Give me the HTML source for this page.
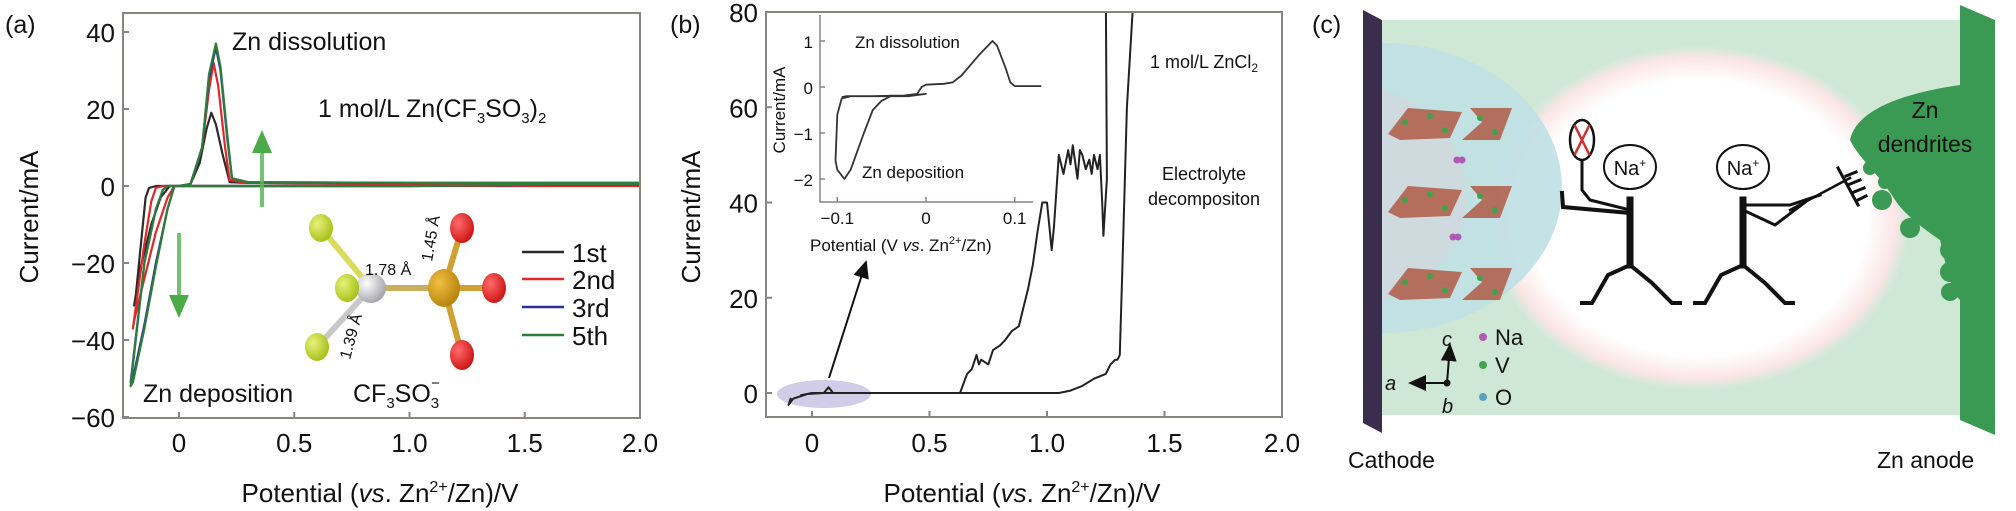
<!DOCTYPE html>
<html><head><meta charset="utf-8">
<style>
html,body{margin:0;padding:0;background:#fff;}
svg{display:block;font-family:"Liberation Sans",sans-serif;}
</style></head>
<body>
<svg id="fig" width="2016" height="511" viewBox="0 0 2016 511" xmlns="http://www.w3.org/2000/svg">
<defs>
  <radialGradient id="gf" cx="35%" cy="35%" r="65%"><stop offset="0" stop-color="#e8f27a"/><stop offset="1" stop-color="#a9c21d"/></radialGradient>
  <radialGradient id="go" cx="35%" cy="35%" r="65%"><stop offset="0" stop-color="#ff6b6b"/><stop offset="1" stop-color="#d01818"/></radialGradient>
  <radialGradient id="gs" cx="35%" cy="35%" r="65%"><stop offset="0" stop-color="#f0c040"/><stop offset="1" stop-color="#b9860f"/></radialGradient>
  <radialGradient id="gc" cx="35%" cy="35%" r="65%"><stop offset="0" stop-color="#ffffff"/><stop offset="1" stop-color="#a8a8b0"/></radialGradient>
  <radialGradient id="glow" cx="50%" cy="50%" r="50%"><stop offset="0.8" stop-color="#ffffff"/><stop offset="0.93" stop-color="#fbe6e6"/><stop offset="1" stop-color="#cfe8d6"/></radialGradient>
  <radialGradient id="blue" cx="0%" cy="50%" r="100%"><stop offset="0" stop-color="#c9e7e6"/><stop offset="0.5" stop-color="#e6d9dc"/><stop offset="1" stop-color="#a9d7e0"/></radialGradient>
  <marker id="ah" markerWidth="10" markerHeight="10" refX="8" refY="5" orient="auto"><path d="M0,1 L9,5 L0,9 z" fill="#111"/></marker>
</defs>
<g id="pa"></g>
<g id="pb"></g>
<g id="pc"></g>
</svg>
<script>
// ---------- Panel (a) data ----------
const aXTicks = [0, 0.5, 1.0, 1.5, 2.0];
const aXTickLabels = ["0", "0.5", "1.0", "1.5", "2.0"];
const aYTicks = [40, 20, 0, -20, -40, -60];
const aYTickLabels = ["40", "20", "0", "\u221220", "\u221240", "\u221260"];
const aSeriesNames = ["1st", "2nd", "3rd", "5th"];
const aSeriesColors = ["#2b2b2b", "#e02828", "#2b2f9a", "#2e7d3a"];
const aV1 = [2.0, 1.0, 0.3, 0.22, 0.19, 0.16, 0.14, 0.12, 0.09, 0.05, 0.0, -0.1, -0.13, -0.145, -0.16, -0.19, -0.195, -0.17, -0.12, -0.08, -0.04, 0.0, 0.5, 1.0, 2.0];
const aI1 = [0.5, 0.5, 0.8, 1.0, 8, 16, 19, 15, 6, 0.5, 0, 0, -0.5, -3, -12, -30, -31, -22, -10, -3, 0, 0, 0, 0, 0.3];
const aV2 = [2.0, 1.0, 0.3, 0.22, 0.2, 0.17, 0.15, 0.13, 0.1, 0.05, 0.0, -0.07, -0.1, -0.12, -0.15, -0.2, -0.195, -0.15, -0.1, -0.05, -0.02, 0.0, 0.5, 1.0, 2.0];
const aI2 = [0.2, 0.5, 0.8, 1.5, 10, 26, 32, 25, 10, 0.5, 0, 0, -0.5, -4, -15, -37, -35, -24, -12, -3, 0, 0, 0, 0, 0];
const aV3 = [2.0, 1.0, 0.3, 0.23, 0.21, 0.18, 0.16, 0.13, 0.1, 0.05, 0.0, -0.05, -0.07, -0.1, -0.15, -0.21, -0.2, -0.15, -0.1, -0.05, -0.02, 0.0, 0.5, 1.0, 2.0];
const aI3 = [0.8, 0.8, 1.0, 2, 12, 30, 36, 28, 10, 0.5, 0, 0, -1, -6, -20, -51, -50, -36, -20, -6, 0, 0, 0, 0, 0.5];
const aV5 = [2.0, 1.0, 0.3, 0.23, 0.21, 0.18, 0.16, 0.13, 0.1, 0.05, 0.0, -0.05, -0.07, -0.1, -0.15, -0.21, -0.2, -0.15, -0.1, -0.05, -0.02, 0.0, 0.5, 1.0, 2.0];
const aI5 = [0.8, 0.8, 1.0, 2, 13, 31, 37, 29, 10, 0.5, 0, 0, -1, -6, -20, -52, -51, -37, -21, -6, 0, 0, 0, 0, 0.6];

// ---------- Panel (b) data ----------
const bXTicks = [0, 0.5, 1.0, 1.5, 2.0];
const bXTickLabels = ["0", "0.5", "1.0", "1.5", "2.0"];
const bYTicks = [80, 60, 40, 20, 0];
const bYTickLabels = ["80", "60", "40", "20", "0"];
const bV = [-0.09, -0.1, -0.08, -0.02, 0.05, 0.07, 0.09, 0.2, 0.6, 1.05, 1.1, 1.15, 1.2, 1.25, 1.27, 1.29, 1.3, 1.31, 1.32, 1.34, 1.37, 1.25, 1.255, 1.24, 1.235, 1.225, 1.215, 1.2, 1.19, 1.18, 1.165, 1.15, 1.14, 1.13, 1.11, 1.1, 1.09, 1.07, 1.05, 1.03, 1.02, 1.0, 0.98, 0.96, 0.94, 0.92, 0.9, 0.88, 0.85, 0.82, 0.8, 0.77, 0.75, 0.72, 0.71, 0.7, 0.68, 0.66, 0.63, 0.5, 0.2, 0.0, -0.05];
const bI = [-1, -2.5, -1.2, -0.2, 0, 1.2, 0, 0, 0, 0, 0.5, 1.5, 3, 4, 6, 7, 7, 8, 25, 60, 85, 85, 45, 33, 40, 50, 47, 50, 46, 49, 47, 50, 51, 45, 52, 48, 51, 46, 50, 35, 30, 40, 40, 34, 27, 22, 18, 14, 13, 11, 10, 9, 6, 7, 6, 8, 5, 4, 0, 0, 0, 0, -0.5];
const insXTicks = [-0.1, 0, 0.1];
const insXTickLabels = ["\u22120.1", "0", "0.1"];
const insYTicks = [1, 0, -1, -2];
const insYTickLabels = ["1", "0", "\u22121", "\u22122"];
const insV = [0.13, 0.1, 0.095, 0.09, 0.08, 0.075, 0.06, 0.04, 0.03, 0.02, 0.0, -0.005, -0.01, -0.03, -0.06, -0.085, -0.095, -0.1, -0.102, -0.1, -0.092, -0.085, -0.07, -0.06, -0.05, -0.04, -0.02, 0.0, -0.02, -0.04, -0.06, -0.08, -0.09, -0.095];
const insI = [0.02, 0.02, 0.1, 0.4, 0.9, 1.0, 0.7, 0.25, 0.1, 0.07, 0.05, 0.0, -0.15, -0.2, -0.2, -0.2, -0.25, -0.6, -1.6, -1.8, -2.0, -1.8, -1.0, -0.5, -0.3, -0.2, -0.2, -0.15, -0.19, -0.19, -0.2, -0.2, -0.2, -0.22];

const NS = "http://www.w3.org/2000/svg";
function mk(parent, tag, attrs, text) {
  const e = document.createElementNS(NS, tag);
  for (const k in attrs) e.setAttribute(k, attrs[k]);
  if (text !== undefined) e.textContent = text;
  parent.appendChild(e);
  return e;
}
function pts(xs, ys, fx, fy) { return xs.map((v, i) => fx(v).toFixed(1) + "," + fy(ys[i]).toFixed(1)).join(" "); }

// ================= Panel A =================
(function () {
  const g = document.getElementById("pa");
  const ax = v => 179 + (v - 0) * 230.5;
  const ay = v => 186 - v * 3.85;
  let t = mk(g, "text", {x: 5, y: 33, "font-size": 25, fill: "#111"}, "(a)");
   
  const curves = mk(g, "g", {});
   
  const series = [[aV1, aI1], [aV2, aI2], [aV3, aI3], [aV5, aI5]];
  [0, 1, 2, 3].forEach(k => {
    const p = mk(curves, "polyline", {points: pts(series[k][0], series[k][1], ax, ay), fill: "none", stroke: aSeriesColors[k], "stroke-width": 2.2, "stroke-linejoin": "round"});
    
    
  });
  const box = mk(g, "rect", {x: 123, y: 13, width: 517, height: 405, fill: "none", stroke: "#8a8480", "stroke-width": 2});
   
  aXTicks.forEach((v, i) => {
    mk(g, "line", {x1: ax(v), y1: 418, x2: ax(v), y2: 412, stroke: "#8a8480", "stroke-width": 2});
    const tl = mk(g, "text", {x: ax(v), y: 452, "font-size": 26, "text-anchor": "middle", fill: "#111"}, aXTickLabels[i]);
     
  });
  aYTicks.forEach((v, i) => {
    mk(g, "line", {x1: 123, y1: ay(v), x2: 129, y2: ay(v), stroke: "#8a8480", "stroke-width": 2});
    const tl = mk(g, "text", {x: 115, y: ay(v) + 10, "font-size": 26, "text-anchor": "end", fill: "#111"}, aYTickLabels[i]);
     
  });
  t = mk(g, "text", {x: 380, y: 502, "font-size": 26, "text-anchor": "middle", fill: "#111"});
  t.innerHTML = 'Potential (<tspan font-style="italic">vs</tspan>. Zn<tspan font-size="16" dy="-10">2+</tspan><tspan dy="10">/Zn)/V</tspan>';
   
  t = mk(g, "text", {x: 0, y: 0, "font-size": 26, "text-anchor": "middle", fill: "#111", transform: "translate(38,217) rotate(-90)"}, "Current/mA");
   
  t = mk(g, "text", {x: 232, y: 50, "font-size": 25, fill: "#111"}, "Zn dissolution");
   
  t = mk(g, "text", {x: 318, y: 117, "font-size": 25, fill: "#111"});
  t.innerHTML = '1 mol/L Zn(CF<tspan font-size="15" dy="6">3</tspan><tspan dy="-6">SO</tspan><tspan font-size="15" dy="6">3</tspan><tspan dy="-6">)</tspan><tspan font-size="15" dy="6">2</tspan>';
   
  t = mk(g, "text", {x: 143, y: 402, "font-size": 25, fill: "#111"}, "Zn deposition");
   
  t = mk(g, "text", {x: 353, y: 402, "font-size": 25, fill: "#111"});
  t.innerHTML = 'CF<tspan font-size="15" dy="6">3</tspan><tspan dy="-6">SO</tspan><tspan font-size="15" dy="6">3</tspan><tspan font-size="15" dx="-8" dy="-20">\u2212</tspan>';
   
  // green arrows
  const ua = mk(g, "g", {});  
  mk(ua, "line", {x1: 262, y1: 207, x2: 262, y2: 150, stroke: "#5cb85c", "stroke-width": 4, opacity: 0.85});
  mk(ua, "path", {d: "M252,153 L262,130 L272,153 Z", fill: "#4aab48"});
  const da = mk(g, "g", {});  
  mk(da, "line", {x1: 179, y1: 233, x2: 179, y2: 298, stroke: "#5cb85c", "stroke-width": 4, opacity: 0.85});
  mk(da, "path", {d: "M169,295 L179,318 L189,295 Z", fill: "#4aab48"});
  // molecule
  const m = mk(g, "g", {});  
  const bond = (x1, y1, x2, y2, c) => mk(m, "line", {x1, y1, x2, y2, stroke: c, "stroke-width": 6});
  bond(321, 228, 371, 288, "#d8dc5a"); bond(317, 347, 371, 288, "#c8c8c8"); bond(347, 288, 371, 288, "#ccc");
  bond(371, 288, 444, 288, "#c8b060"); bond(444, 288, 462, 228, "#d0a030"); bond(444, 288, 494, 288, "#d0a030"); bond(444, 288, 462, 355, "#d0a030");
  mk(m, "circle", {cx: 371, cy: 288, r: 15, fill: "url(#gc)"});
  [[321, 228], [347, 288], [317, 347]].forEach(c => mk(m, "ellipse", {cx: c[0], cy: c[1], rx: 12, ry: 14, fill: "url(#gf)"}));
  mk(m, "ellipse", {cx: 444, cy: 288, rx: 16, ry: 19, fill: "url(#gs)"});
  [[462, 228], [494, 288], [462, 355]].forEach(c => mk(m, "ellipse", {cx: c[0], cy: c[1], rx: 12, ry: 15, fill: "url(#go)"}));
  mk(m, "text", {x: 365, y: 275, "font-size": 16, fill: "#111"}, "1.78 \u00c5");
  mk(m, "text", {x: 0, y: 0, "font-size": 16, fill: "#111", transform: "translate(432,262) rotate(-80)"}, "1.45 \u00c5");
  mk(m, "text", {x: 0, y: 0, "font-size": 16, fill: "#111", transform: "translate(350,360) rotate(-75)"}, "1.39 \u00c5");
  // legend
  const lg = mk(g, "g", {});  
  [252, 279, 307, 335].forEach((y, k) => {
    const le = mk(lg, "g", {});
    
    
    mk(le, "line", {x1: 522, y1: y, x2: 564, y2: y, stroke: aSeriesColors[k], "stroke-width": 2.5});
    mk(le, "text", {x: 572, y: y + 10, "font-size": 26, fill: "#111"}, aSeriesNames[k]);
  });
})();

// ================= Panel B =================
(function () {
  const g = document.getElementById("pb");
  const bx = v => 812 + v * 235;
  const by = v => 393 - v * 4.7625;
  let t = mk(g, "text", {x: 670, y: 33, "font-size": 25, fill: "#111"}, "(b)");
   
  const el = mk(g, "ellipse", {cx: 824, cy: 394, rx: 47, ry: 14, fill: "#c9c3e3", opacity: 0.85});
   
  const cl = mk(g, "clipPath", {id: "clipb"});
  mk(cl, "rect", {x: 766, y: 12, width: 516, height: 405});
  const c = mk(g, "polyline", {points: pts(bV, bI, bx, by), fill: "none", stroke: "#222", "stroke-width": 2, "stroke-linejoin": "round", "clip-path": "url(#clipb)"});
   
  const box = mk(g, "rect", {x: 766, y: 12, width: 516, height: 405, fill: "none", stroke: "#8a8480", "stroke-width": 2});
   
  bXTicks.forEach((v, i) => {
    mk(g, "line", {x1: bx(v), y1: 417, x2: bx(v), y2: 411, stroke: "#8a8480", "stroke-width": 2});
    const tl = mk(g, "text", {x: bx(v), y: 452, "font-size": 26, "text-anchor": "middle", fill: "#111"}, bXTickLabels[i]);
     
  });
  bYTicks.forEach((v, i) => {
    mk(g, "line", {x1: 766, y1: by(v), x2: 772, y2: by(v), stroke: "#8a8480", "stroke-width": 2});
    const tl = mk(g, "text", {x: 758, y: by(v) + 10, "font-size": 26, "text-anchor": "end", fill: "#111"}, bYTickLabels[i]);
     
  });
  t = mk(g, "text", {x: 1022, y: 502, "font-size": 26, "text-anchor": "middle", fill: "#111"});
  t.innerHTML = 'Potential (<tspan font-style="italic">vs</tspan>. Zn<tspan font-size="16" dy="-10">2+</tspan><tspan dy="10">/Zn)/V</tspan>';
   
  t = mk(g, "text", {x: 0, y: 0, "font-size": 26, "text-anchor": "middle", fill: "#111", transform: "translate(700,217) rotate(-90)"}, "Current/mA");
   
  t = mk(g, "text", {x: 1150, y: 68, "font-size": 18, fill: "#111"});
  t.innerHTML = '1 mol/L ZnCl<tspan font-size="12" dy="4">2</tspan>';
   
  t = mk(g, "text", {x: 1204, y: 180, "font-size": 18, "text-anchor": "middle", fill: "#111"}, "Electrolyte");
   
  t = mk(g, "text", {x: 1204, y: 205, "font-size": 18, "text-anchor": "middle", fill: "#111"}, "decompositon");
   
  const ar = mk(g, "line", {x1: 829, y1: 378, x2: 866, y2: 262, stroke: "#111", "stroke-width": 2, "marker-end": "url(#ah)"});
   
  // inset
  const ins = mk(g, "g", {});  
  const ix = v => 926 + v * 887;
  const iy = v => 87 - v * 46;
  mk(ins, "polyline", {points: "820,15 820,202 1033,202", fill: "none", stroke: "#8a8480", "stroke-width": 1.5});
  insYTicks.forEach((v, i) => {
    mk(ins, "line", {x1: 820, y1: iy(v), x2: 825, y2: iy(v), stroke: "#8a8480", "stroke-width": 1.5});
    const tl = mk(ins, "text", {x: 813, y: iy(v) + 7, "font-size": 17, "text-anchor": "end", fill: "#111"}, insYTickLabels[i]);
     
  });
  insXTicks.forEach((v, i) => {
    mk(ins, "line", {x1: ix(v), y1: 202, x2: ix(v), y2: 197, stroke: "#8a8480", "stroke-width": 1.5});
    const tl = mk(ins, "text", {x: ix(v), y: 224, "font-size": 17, "text-anchor": "middle", fill: "#111"}, insXTickLabels[i]);
     
  });
  const ic = mk(ins, "polyline", {points: pts(insV, insI, ix, iy), fill: "none", stroke: "#333", "stroke-width": 1.8, "stroke-linejoin": "round"});
   
  t = mk(ins, "text", {x: 810, y: 251, "font-size": 17, fill: "#111"});
  t.innerHTML = 'Potential (V <tspan font-style="italic">vs</tspan>. Zn<tspan font-size="11" dy="-7">2+</tspan><tspan dy="7">/Zn)</tspan>';
   
  t = mk(ins, "text", {x: 0, y: 0, "font-size": 17, "text-anchor": "middle", fill: "#111", transform: "translate(785,110) rotate(-90)"}, "Current/mA");
   
  t = mk(ins, "text", {x: 855, y: 48, "font-size": 17, fill: "#111"}, "Zn dissolution");
   
  t = mk(ins, "text", {x: 862, y: 178, "font-size": 17, fill: "#111"}, "Zn deposition");
   
})();

// ================= Panel C =================
(function () {
  const g = document.getElementById("pc");
  let t = mk(g, "text", {x: 1312, y: 33, "font-size": 25, fill: "#111"}, "(c)");
   
  let e = mk(g, "rect", {x: 1382, y: 20, width: 580, height: 395, fill: "#cfe8d6"});
   
  e = mk(g, "ellipse", {cx: 1698, cy: 218, rx: 212, ry: 172, fill: "url(#glow)"});
   
  e = mk(g, "path", {d: "M1382,43 A180,145 0 0 1 1382,333 Z", fill: "#bfe0e4", opacity: 0.9});
   
  mk(g, "path", {d: "M1382,90 A120,110 0 0 1 1382,300 Z", fill: "#dcd3d8", opacity: 0.5});
  // crystal blocks
  const cr = mk(g, "g", {});  
  [122, 200, 282].forEach(y => {
    mk(cr, "polygon", {points: `1388,${y + 12} 1408,${y - 14} 1462,${y - 10} 1450,${y + 16} 1400,${y + 18}`, fill: "#b05a45", opacity: 0.85});
    mk(cr, "polygon", {points: `1470,${y - 14} 1512,${y - 14} 1500,${y + 18} 1462,${y + 18} 1482,${y}`, fill: "#b05a45", opacity: 0.85});
    [[1405, y], [1430, y - 6], [1445, y + 8], [1480, y - 4], [1495, y + 10]].forEach(p => mk(cr, "circle", {cx: p[0], cy: p[1], r: 3, fill: "#3fa34d"}));
  });
  [[1457, 160], [1453, 237]].forEach(p => {
    mk(cr, "circle", {cx: p[0], cy: p[1], r: 3.5, fill: "#b05ab5"});
    mk(cr, "circle", {cx: p[0] + 5, cy: p[1], r: 3.5, fill: "#b05ab5"});
  });
  // electrodes
  e = mk(g, "polygon", {points: "1363,10 1382,20 1382,433 1363,423", fill: "#3b2d4d"});
   
  e = mk(g, "path", {d: "M1960,5 L1995,20 L1995,435 L1960,420 L1960,300 C1950,290 1945,260 1940,240 C1925,230 1905,215 1895,200 C1880,175 1860,160 1850,140 C1855,115 1890,95 1960,85 Z", fill: "#3a9952"});
   
  const dd = mk(g, "g", {});  
  [[1870, 168, 7], [1885, 182, 7], [1882, 200, 10], [1910, 228, 10], [1950, 250, 10], [1950, 272, 10], [1950, 292, 9]].forEach(c => mk(dd, "circle", {cx: c[0], cy: c[1], r: c[2], fill: "#3a9952"}));
  t = mk(g, "text", {x: 1925, y: 118, "font-size": 23, "text-anchor": "middle", fill: "#111"}, "Zn");
   
  t = mk(g, "text", {x: 1925, y: 152, "font-size": 23, "text-anchor": "middle", fill: "#111"}, "dendrites");
   
  // stick figures
  function fig(hx, name) {
    const f = mk(g, "g", {stroke: "#111", fill: "none", "stroke-width": 4, "stroke-linecap": "square"});
     
    mk(f, "ellipse", {cx: hx, cy: 167, rx: 26, ry: 22, fill: "#fff", "stroke-width": 2});
    mk(f, "line", {x1: hx, y1: 200, x2: hx, y2: 265, "stroke-width": 7});
    mk(f, "polyline", {points: `${hx},265 ${hx - 22},275 ${hx - 38},303 ${hx - 48},303`});
    mk(f, "polyline", {points: `${hx},265 ${hx + 22},283 ${hx + 42},303 ${hx + 50},303`});
    const tx = mk(g, "text", {x: hx, y: 175, "font-size": 20, "text-anchor": "middle", fill: "#111"});
    tx.innerHTML = 'Na<tspan font-size="12" dy="-8">+</tspan>';
    return f;
  }
  const f1 = fig(1630, "na-figure-left");
  mk(f1, "polyline", {points: "1630,213 1563,207 1562,193"});
  mk(f1, "polyline", {points: "1630,210 1590,200 1582,190 1582,155", "stroke-width": 3});
  mk(f1, "ellipse", {cx: 1582, cy: 140, rx: 12, ry: 20, fill: "#fff", "stroke-width": 2.5});
  mk(f1, "path", {d: "M1575,126 L1589,154 M1589,126 L1575,154", stroke: "#d03030", "stroke-width": 2.5});
  const f2 = fig(1743, "na-figure-right");
  mk(f2, "polyline", {points: "1743,210 1775,225 1808,200", "stroke-width": 3});
  mk(f2, "polyline", {points: "1743,205 1790,205 1820,195", "stroke-width": 3});
  mk(f2, "line", {x1: 1790, y1: 210, x2: 1850, y2: 178, "stroke-width": 2.5});
  mk(f2, "path", {d: "M1838,168 L1858,205 M1846,176 L1856,172 M1850,184 L1860,180 M1854,192 L1864,188 M1858,200 L1866,196", "stroke-width": 3});
  // legend and axes
  const lg = mk(g, "g", {});  
  [["#b05ab5", "Na", 337], ["#3fa34d", "V", 365], ["#5aa0c0", "O", 397]].forEach(a => {
    mk(lg, "circle", {cx: 1483, cy: a[2], r: 4, fill: a[0]});
    mk(lg, "text", {x: 1495, y: a[2] + 8, "font-size": 22, fill: "#111"}, a[1]);
  });
  const axg = mk(g, "g", {});  
  mk(axg, "line", {x1: 1447, y1: 383, x2: 1450, y2: 345, stroke: "#111", "stroke-width": 2, "marker-end": "url(#ah)"});
  mk(axg, "line", {x1: 1447, y1: 383, x2: 1410, y2: 383, stroke: "#111", "stroke-width": 2, "marker-end": "url(#ah)"});
  mk(axg, "circle", {cx: 1447, cy: 383, r: 3.5, fill: "#111"});
  mk(axg, "text", {x: 1442, y: 346, "font-size": 20, "font-style": "italic", fill: "#111"}, "c");
  mk(axg, "text", {x: 1385, y: 390, "font-size": 20, "font-style": "italic", fill: "#111"}, "a");
  mk(axg, "text", {x: 1442, y: 413, "font-size": 20, "font-style": "italic", fill: "#111"}, "b");
  t = mk(g, "text", {x: 1348, y: 468, "font-size": 23, fill: "#111"}, "Cathode");
   
  t = mk(g, "text", {x: 1877, y: 468, "font-size": 23, fill: "#111"}, "Zn anode");
   
})();
</script>
</body></html>
